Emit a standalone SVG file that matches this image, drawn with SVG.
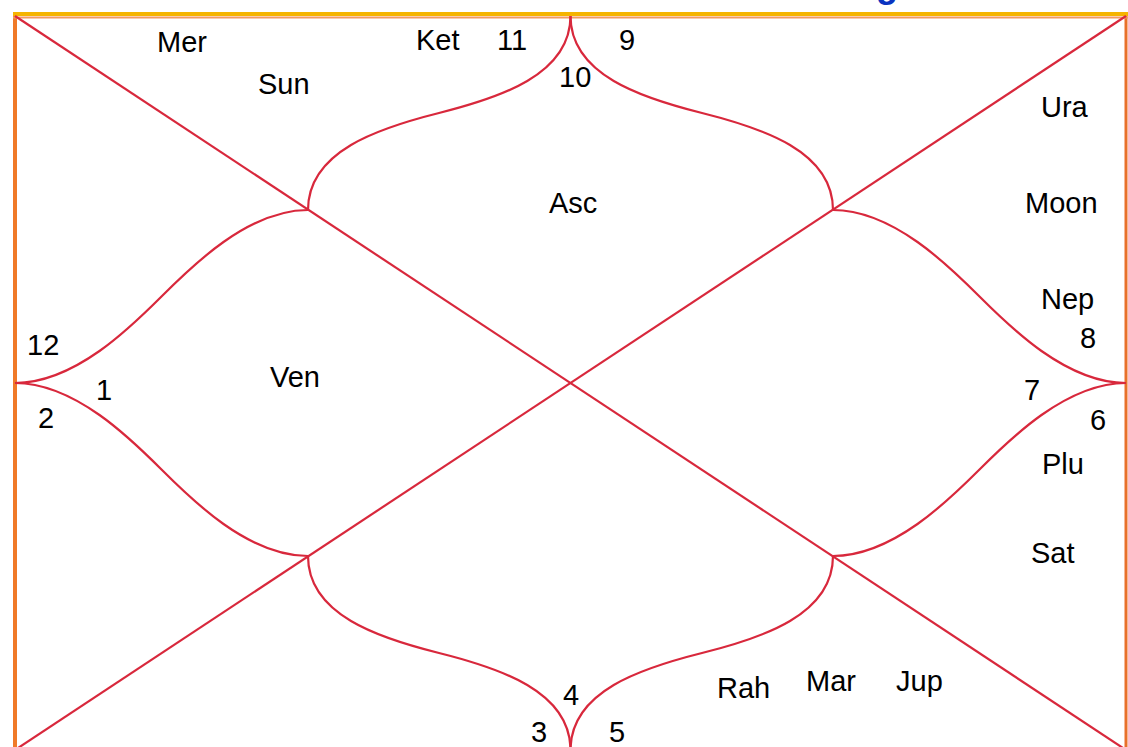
<svg xmlns="http://www.w3.org/2000/svg" width="1128" height="747" viewBox="0 0 1128 747">
<style>
.ln{fill:none;stroke:#d8283c;stroke-width:2.2}
.t{font-family:"Liberation Sans",Arial,sans-serif;font-size:29px;fill:#000}
</style>
<rect x="0" y="0" width="1128" height="747" fill="#ffffff"/>
<text x="876" y="-3" style="font-family:'Liberation Sans',Arial,sans-serif;font-size:36px;font-weight:bold;fill:#0a33c0">g</text>
<g id="frame">
<line x1="15" y1="14" x2="15" y2="747" stroke="#f07a28" stroke-width="4"/>
<line x1="1126" y1="14" x2="1126" y2="747" stroke="#e8702a" stroke-width="3"/>
<line x1="13" y1="17.5" x2="1128" y2="17.5" stroke="#f29a62" stroke-width="2"/>
<line x1="13" y1="14" x2="1128" y2="14" stroke="#f5b400" stroke-width="4"/>
</g>
<g id="connectors">
<line class="ln" x1="15" y1="16" x2="1126" y2="750"/>
<line class="ln" x1="1126" y1="16" x2="15" y2="750"/>
<path class="ln" d="M570.5,16 C570.5,75 499,98 439,113 C379,128 308,151 308,210"/>
<path class="ln" d="M570.5,16 C570.5,75 642,98 702,113 C762,128 833,151 833,210"/>
<path class="ln" d="M570.5,750 C570.5,691 499,668 439,653 C379,638 308,615 308,556"/>
<path class="ln" d="M570.5,750 C570.5,691 642,668 702,653 C762,638 833,615 833,556"/>
<path class="ln" d="M15,383 C75,383 131.5,326.5 161.5,296.5 C191.5,266.5 248,210 308,210"/>
<path class="ln" d="M15,383 C75,383 131.5,439.5 161.5,469.5 C191.5,499.5 248,556 308,556"/>
<path class="ln" d="M1126,383 C1066,383 1009.5,326.5 979.5,296.5 C949.5,266.5 893,210 833,210"/>
<path class="ln" d="M1126,383 C1066,383 1009.5,439.5 979.5,469.5 C949.5,499.5 893,556 833,556"/>
</g>
<g id="house1"><text class="t" x="96" y="400">1</text><text class="t" x="270" y="387">Ven</text></g>
<g id="house2"><text class="t" x="38" y="428">2</text></g>
<g id="house3"><text class="t" x="531" y="742">3</text></g>
<g id="house4"><text class="t" x="563" y="705">4</text></g>
<g id="house5"><text class="t" x="609" y="742">5</text><text class="t" x="717" y="698">Rah</text><text class="t" x="806" y="691">Mar</text><text class="t" x="896" y="691">Jup</text></g>
<g id="house6"><text class="t" x="1090" y="430">6</text><text class="t" x="1042" y="474">Plu</text><text class="t" x="1031" y="563">Sat</text></g>
<g id="house7"><text class="t" x="1024" y="400">7</text></g>
<g id="house8"><text class="t" x="1080" y="348">8</text><text class="t" x="1041" y="117">Ura</text><text class="t" x="1025" y="213">Moon</text><text class="t" x="1041" y="309">Nep</text></g>
<g id="house9"><text class="t" x="619" y="50">9</text></g>
<g id="house10"><text class="t" x="559" y="87">10</text><text class="t" x="549" y="213">Asc</text></g>
<g id="house11"><text class="t" x="497" y="50">11</text><text class="t" x="416" y="50">Ket</text><text class="t" x="157" y="52">Mer</text><text class="t" x="258" y="94">Sun</text></g>
<g id="house12"><text class="t" x="27" y="355">12</text></g>
</svg>
